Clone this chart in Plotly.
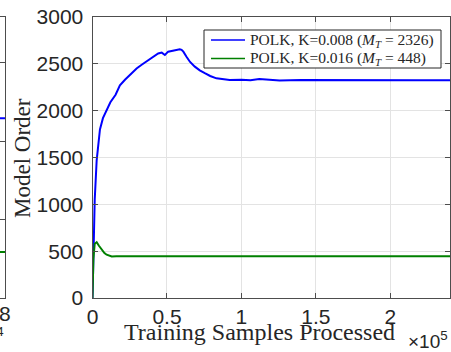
import plotly.graph_objects as go

# Training progress: samples processed vs. model order for two compression budgets
samples_k008 = [0, 600, 1500, 2800, 5000, 7000, 9500, 12000, 15500, 18400, 21800, 25000,
                29600, 33000, 36300, 40000, 44100, 46500, 48600, 50800, 54000, 58600,
                59800, 61000, 63100, 65500, 68700, 72000, 75400, 79000, 83200, 88000,
                92100, 100000, 106000, 112000, 118000, 125600, 140000, 160000, 180000,
                200000, 220000, 240000]
order_k008 = [0, 600, 1050, 1470, 1800, 1920, 2000, 2090, 2170, 2270, 2330, 2380,
              2450, 2490, 2525, 2565, 2610, 2620, 2595, 2630, 2640, 2655,
              2650, 2630, 2575, 2520, 2470, 2430, 2400, 2370, 2345, 2335,
              2328, 2330, 2326, 2338, 2330, 2322, 2328, 2326, 2330,
              2326, 2324, 2326]

samples_k016 = [0, 600, 1500, 2800, 4200, 6200, 8000, 9500, 11000, 12900, 16000, 25000,
                50000, 100000, 150000, 200000, 240000]
order_k016 = [0, 420, 580, 595, 560, 512, 480, 462, 450, 443, 445, 445,
              445, 445, 446, 445, 445]

# Neighbouring panel (only its right edge is in view)
side_samples = [0, 80000]
side_k008 = [2290, 2290]
side_k016 = [586, 586]

series_labels = ["POLK, K=0.008 (<i>M<sub>T</sub></i> = 2326)",
                 "POLK, K=0.016 (<i>M<sub>T</sub></i> = 448)"]
series_colors = ["#0000ff", "#008000"]

x_tick_vals = [0, 50000, 100000, 150000, 200000]
x_tick_text = ["0", "0.5", "1", "1.5", "2"]
y_tick_vals = [0, 500, 1000, 1500, 2000, 2500, 3000]

W, H = 451, 352
PLOT_W, PLOT_H = 450, 281
TOP = 17
axis_col = "#4d4d4d"
grid_col = "#e3e3e3"
text_col = "#262626"
sans = "Liberation Sans, Arial, sans-serif"
serif = "Liberation Serif, Times New Roman, serif"
tick_font = dict(family=sans, size=21, color=text_col)


def px(xp):
    return xp / PLOT_W


def py(yp):
    return (TOP + PLOT_H - yp) / PLOT_H


fig = go.Figure()

fig.add_trace(go.Scatter(x=samples_k008, y=order_k008, mode="lines",
                         line=dict(color=series_colors[0], width=2),
                         name=series_labels[0], showlegend=False,
                         xaxis="x", yaxis="y"))
fig.add_trace(go.Scatter(x=samples_k016, y=order_k016, mode="lines",
                         line=dict(color=series_colors[1], width=2),
                         name=series_labels[1], showlegend=False,
                         xaxis="x", yaxis="y"))

fig.add_trace(go.Scatter(x=side_samples, y=side_k008, mode="lines",
                         line=dict(color=series_colors[0], width=2), showlegend=False,
                         xaxis="x2", yaxis="y2"))
fig.add_trace(go.Scatter(x=side_samples, y=side_k016, mode="lines",
                         line=dict(color=series_colors[1], width=2), showlegend=False,
                         xaxis="x2", yaxis="y2"))

common_axis = dict(ticks="inside", ticklen=5, tickcolor=axis_col,
                   showline=True, linecolor=axis_col, linewidth=1, mirror="ticks",
                   zeroline=False, automargin=False)

fig.update_layout(
    width=W, height=H,
    margin=dict(l=0, r=1, t=TOP, b=H - TOP - PLOT_H, pad=0),
    paper_bgcolor="white", plot_bgcolor="white",
    showlegend=False,
    xaxis=dict(domain=[px(92.5), 1], range=[0, 240000],
               tickvals=x_tick_vals, ticktext=x_tick_text, tickfont=tick_font,
               showgrid=True, gridcolor=grid_col, gridwidth=1, **common_axis),
    yaxis=dict(domain=[0, 1], range=[0, 3000], tickvals=y_tick_vals,
               tickfont=tick_font, showgrid=True, gridcolor=grid_col, gridwidth=1,
               ticklabelstandoff=4, **common_axis),
    xaxis2=dict(domain=[0, px(5)], range=[0, 80000], anchor="y2",
                tickvals=[80000], showticklabels=False,
                showgrid=False, **common_axis),
    yaxis2=dict(domain=[0, 1], range=[0, 3580], anchor="x2",
                tickvals=[1000, 2000, 3000], showticklabels=False,
                showgrid=True, gridcolor=grid_col, **common_axis),
)

# Legend box drawn in figure coordinates
shapes = [dict(type="rect", xref="paper", yref="paper",
               x0=px(204), x1=px(441), y0=py(68), y1=py(30),
               line=dict(color=text_col, width=1), fillcolor="white", layer="above")]
annotations = []
for i, (label, color) in enumerate(zip(series_labels, series_colors)):
    row_y = 40 + 18.5 * i
    shapes.append(dict(type="line", xref="paper", yref="paper",
                       x0=px(211), x1=px(245), y0=py(row_y), y1=py(row_y),
                       line=dict(color=color, width=1.5), layer="above"))
    annotations.append(dict(text=label, xref="paper", yref="paper",
                            x=px(248), y=py(row_y + 0.5), xanchor="left", yanchor="middle",
                            showarrow=False,
                            font=dict(family=serif, size=15.5, color=text_col)))

annotations += [
    # last tick label of the neighbouring panel's x axis
    dict(text="8", xref="paper", yref="paper",
         x=px(5), y=py(313), xanchor="center", yanchor="middle",
         showarrow=False, font=tick_font),
    dict(text="Model Order", xref="paper", yref="paper",
         x=px(22), y=py(158), xanchor="center", yanchor="middle",
         textangle=-90, showarrow=False,
         font=dict(family=serif, size=23, color=text_col)),
    dict(text="Training Samples Processed", xref="paper", yref="paper",
         x=px(259), y=py(332), xanchor="center", yanchor="middle",
         showarrow=False, font=dict(family=serif, size=24, color=text_col)),
    dict(text="\u00d710<sup>5</sup>", xref="paper", yref="paper",
         x=1.0, y=py(340), xanchor="right", yanchor="middle",
         showarrow=False, font=dict(family=sans, size=19, color=text_col)),
    dict(text="\u00d710<sup>4</sup>", xref="paper", yref="paper",
         x=px(6), y=py(336), xanchor="right", yanchor="middle",
         showarrow=False, font=dict(family=sans, size=19, color=text_col)),
]

fig.update_layout(shapes=shapes, annotations=annotations)

fig.write_html("out.html")
